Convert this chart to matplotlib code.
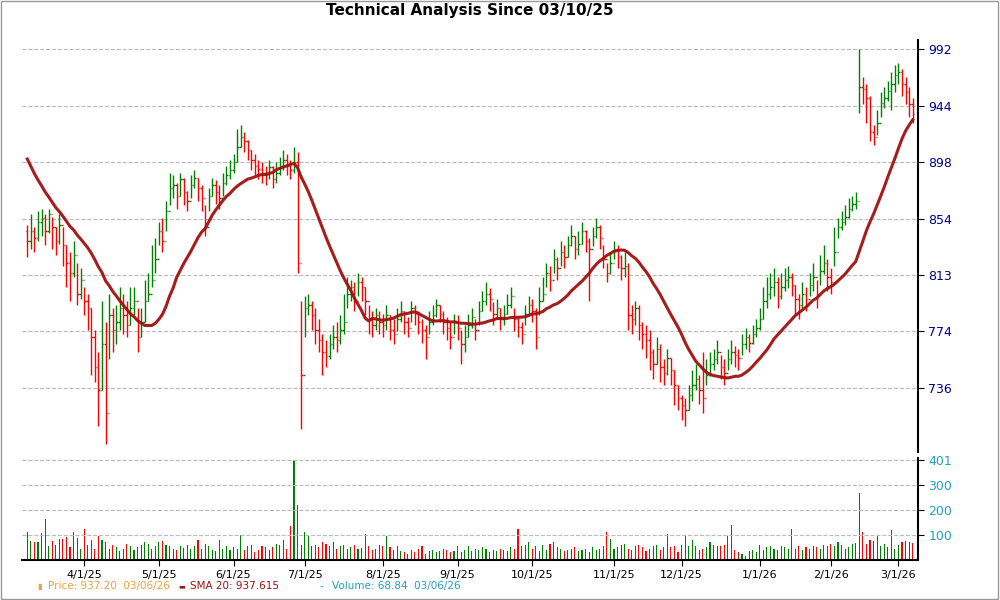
import numpy as np
import pandas as pd
import matplotlib
matplotlib.use("Agg")
import matplotlib.pyplot as plt
from matplotlib.ticker import FixedLocator, NullLocator, FixedFormatter

holidays = ["2025-04-18", "2025-05-26", "2025-06-19", "2025-07-04", "2025-09-01",
            "2025-11-27", "2025-12-25", "2026-01-01", "2026-01-19", "2026-02-16"]
history_close = [960, 955, 950, 945, 940, 935, 930, 920, 910, 905, 900, 890, 880, 875, 870, 860, 855, 850, 845]

close = [
 838, 845, 840, 852, 855, 845, 858, 848, 838, 850, 835, 822, 815, 828, 800, 810,
 795, 790, 770, 750, 735, 765, 720, 785, 775, 780, 790, 785, 778, 790, 795, 770, 780, 795, 800, 810, 825,
 845, 838, 860, 878, 880, 872, 885, 875, 868, 880, 886, 878, 870, 848, 872, 880, 875, 870, 882, 888, 892,
 898, 910, 918, 915, 908, 900, 895, 893, 890, 888, 894, 885, 890, 895, 900, 895, 892, 898, 822, 745,
 790, 792, 785, 775, 768, 760, 757, 765, 770, 768, 775, 780, 800, 805, 795, 808, 805, 795, 782, 778, 785, 780,
 778, 785, 775, 772, 782, 788, 780, 776, 790, 786, 780, 775, 770, 780, 785, 792, 786, 780, 776, 770, 780,
 776, 765, 770, 778, 784, 775, 788, 795, 800, 796, 786, 790, 782, 786, 792, 798, 782, 777, 772, 786, 792,
 788, 770, 795, 800, 815, 810, 825, 818, 830, 826, 835, 842, 832, 836, 845, 838, 832, 842, 848, 840, 825, 815, 822,
 832, 826, 818, 820, 785, 782, 790, 778, 772, 768, 760, 752, 762, 750, 746, 756, 748, 738, 730,
 725, 722, 732, 738, 742, 735, 730, 745, 752, 755, 760, 750, 746, 755, 760, 758, 756, 765, 770, 766, 772, 776,
 782, 795, 800, 805, 808, 798, 805, 810, 812, 806, 796, 792, 800, 796, 806, 812, 800, 816, 822, 812,
 808, 830, 848, 852, 856, 862, 866, 868, 960, 958, 950, 922, 918, 930, 946, 950, 956, 962, 970,
 972, 962, 955, 945, 937.2]
high = [
 850, 858, 848, 860, 862, 858, 862, 856, 848, 858, 848, 835, 830, 838, 822, 818,
 805, 800, 790, 775, 760, 795, 780, 800, 790, 792, 805, 800, 795, 805, 805, 790, 790, 810, 815, 835, 840,
 852, 855, 868, 890, 888, 882, 890, 886, 876, 888, 892, 886, 880, 865, 878, 886, 884, 880, 890, 895, 900,
 905, 925, 928, 922, 916, 908, 905, 900, 898, 895, 900, 895, 898, 902, 908, 905, 900, 910, 906, 795,
 798, 800, 795, 790, 782, 772, 768, 772, 778, 780, 785, 800, 812, 810, 808, 815, 812, 805, 792, 788, 790, 788,
 786, 792, 785, 782, 790, 795, 788, 784, 795, 792, 788, 782, 778, 788, 792, 796, 792, 788, 784, 780, 786,
 785, 775, 778, 786, 790, 782, 795, 802, 808, 804, 794, 796, 790, 792, 800, 805, 790, 784, 780, 792, 798,
 796, 790, 805, 812, 822, 820, 832, 826, 838, 835, 842, 850, 842, 845, 852, 846, 840, 848, 855, 850, 835, 822, 830,
 838, 835, 828, 830, 822, 792, 795, 792, 780, 778, 775, 762, 770, 765, 755, 762, 756, 748, 738,
 732, 730, 738, 748, 752, 745, 760, 755, 760, 762, 768, 758, 755, 762, 768, 764, 762, 772, 776, 772, 778, 782,
 790, 805, 812, 815, 818, 812, 815, 818, 820, 815, 806, 800, 808, 805, 815, 822, 810, 828, 835, 825,
 818, 848, 855, 860, 865, 870, 872, 875, 992, 968, 962, 952, 928, 940, 955, 960, 965, 972, 978,
 980, 975, 968, 960, 950]
low = [
 826, 832, 830, 838, 842, 835, 844, 832, 828, 836, 820, 805, 795, 812, 792, 796,
 785, 775, 745, 740, 712, 735, 701, 755, 760, 765, 775, 772, 770, 778, 785, 760, 770, 780, 795, 805, 815,
 835, 830, 845, 865, 870, 862, 872, 865, 860, 870, 878, 868, 860, 842, 860, 872, 866, 862, 872, 880, 885,
 890, 898, 910, 906, 900, 892, 888, 885, 882, 880, 885, 878, 882, 888, 892, 888, 885, 890, 815, 710,
 770, 785, 775, 765, 760, 745, 750, 755, 762, 760, 765, 772, 790, 795, 788, 798, 795, 785, 772, 770, 775, 772,
 770, 775, 768, 765, 774, 780, 772, 770, 780, 778, 772, 766, 755, 772, 778, 784, 780, 772, 768, 762, 772,
 768, 752, 760, 770, 776, 768, 778, 788, 792, 788, 778, 782, 775, 778, 786, 790, 774, 770, 765, 778, 785,
 780, 762, 785, 795, 805, 802, 815, 810, 820, 818, 826, 834, 825, 828, 836, 830, 795, 834, 840, 832, 818, 808, 814,
 825, 818, 810, 812, 775, 772, 778, 768, 762, 756, 748, 742, 752, 740, 738, 745, 738, 725, 722,
 716, 712, 722, 728, 735, 726, 720, 738, 744, 748, 752, 742, 738, 748, 752, 750, 748, 758, 762, 760, 765, 770,
 775, 782, 790, 796, 798, 790, 796, 802, 804, 798, 786, 782, 790, 788, 798, 802, 790, 806, 814, 802,
 800, 820, 840, 846, 850, 855, 860, 862, 938, 945, 930, 915, 912, 920, 935, 942, 948, 940, 955,
 962, 952, 945, 935, 930]
volume = [
 112, 75, 70, 72, 108, 165, 55, 75, 60, 82, 85, 90, 50, 112, 88, 45,
 125, 60, 80, 45, 95, 78, 70, 45, 60, 50, 35, 45, 62, 55, 40, 50, 58, 70, 62, 45, 55,
 72, 75, 60, 55, 42, 40, 55, 48, 60, 45, 55, 80, 45, 62, 55, 40, 35, 80, 45, 55, 40,
 50, 45, 100, 40, 55, 60, 30, 40, 55, 50, 40, 50, 65, 60, 80, 45, 135, 401, 220, 60,
 110, 95, 55, 60, 50, 70, 65, 55, 72, 45, 55, 60, 45, 50, 60, 45, 48, 105, 55, 40, 45, 60,
 55, 95, 50, 40, 55, 35, 30, 25, 40, 30, 45, 55, 25, 35, 40, 30, 35, 45, 40, 30, 35,
 55, 30, 40, 55, 35, 45, 40, 50, 45, 30, 40, 35, 45, 40, 35, 50, 45, 125, 55, 60, 70,
 45, 55, 35, 60, 40, 65, 70, 50, 45, 35, 40, 45, 50, 35, 40, 45, 30, 50, 40, 45, 55, 110, 85,
 45, 50, 60, 65, 45, 40, 55, 60, 50, 35, 45, 55, 60, 40, 50, 105, 50, 55, 30,
 60, 100, 55, 80, 55, 40, 45, 50, 70, 60, 55, 55, 60, 95, 140, 40, 30, 25, 15, 35, 40, 30,
 60, 40, 50, 55, 45, 40, 55, 50, 45, 125, 45, 55, 40, 50, 45, 55, 50, 45, 60, 55,
 65, 55, 70, 60, 45, 50, 62, 68, 270, 110, 65, 80, 75, 100, 55, 65, 50, 118, 45,
 60, 70, 75, 70, 68.84]
price_ticks = [736, 774, 813, 854, 898, 944, 992]
volume_ticks = [100, 200, 300, 401]

dates = pd.bdate_range("2025-03-10", "2026-03-06")
dates = dates[~dates.isin(pd.to_datetime(holidays))]
n = len(close)
x = np.arange(n)
allc = np.array(history_close + close, dtype=float)
sma = pd.Series(allc).rolling(20).mean().values[len(history_close):]
prev = np.array([history_close[-1]] + close[:-1], dtype=float)
opn = prev
cols = ["#008000" if c >= p else "#ff0000" for c, p in zip(close, prev)]

fig = plt.figure(figsize=(10, 6), dpi=100)
fig.patches.append(plt.Rectangle((0.001, 0.002), 0.997, 0.996, transform=fig.transFigure,
                                 fill=False, edgecolor="#999999", lw=1))
ax = fig.add_axes([0.022, 0.247, 0.896, 0.686])
axv = fig.add_axes([0.022, 0.067, 0.896, 0.170], sharex=ax)

ax.vlines(x, low, high, colors=cols, lw=1.0)
ax.hlines(opn, x - 0.4, x, colors=cols, lw=1.0)
ax.hlines(close, x, x + 0.4, colors=cols, lw=1.0)
ax.plot(x, sma, color="#a01010", lw=2.2, alpha=0.95)
ax.set_yscale("log")
ax.set_ylim(696, 1000)
ax.yaxis.set_major_locator(FixedLocator(price_ticks))
ax.yaxis.set_major_formatter(FixedFormatter([str(t) for t in price_ticks]))
ax.yaxis.set_minor_locator(NullLocator())
ax.yaxis.tick_right()
ax.tick_params(axis="y", labelsize=9, length=4, color="black", labelcolor="#00008b")
ax.grid(axis="y", color="#bbbbbb", ls="--", lw=0.8)
ax.tick_params(axis="x", bottom=False, labelbottom=False)
for s in ["top", "left", "bottom"]:
    ax.spines[s].set_visible(False)
ax.spines["right"].set_linewidth(1.5)
fig.text(0.47, 0.982, "Technical Analysis Since 03/10/25", fontsize=11, fontweight="bold",
         ha="center", va="center")

axv.bar(x, volume, width=0.3, color=cols)
axv.set_ylim(0, 410)
axv.yaxis.tick_right()
axv.set_yticks(volume_ticks)
axv.tick_params(axis="y", labelcolor="#20a0c0", labelsize=9, length=4)
axv.grid(axis="y", color="#bbbbbb", ls="--", lw=0.8)
for s in ["top", "left"]:
    axv.spines[s].set_visible(False)
axv.spines["right"].set_linewidth(1.5)
axv.spines["bottom"].set_linewidth(1.5)
months = pd.Series(dates.to_period("M"))
first = [i for i in range(1, n) if months[i] != months[i - 1]]
axv.set_xticks(first)
axv.set_xticklabels([f"{dates[i].month}/1/{dates[i].year % 100}" for i in first], fontsize=8)
axv.tick_params(axis="x", length=4)
axv.set_xlim(-1.5, n + 0.5)

fig.text(0.037, 0.023, "▮", color="#f0a040", fontsize=6, va="center")
fig.text(0.048, 0.023, "Price: 937.20  03/06/26", color="#f0a040", fontsize=7.5, va="center")
fig.text(0.178, 0.023, "▬", color="#a01010", fontsize=5, va="center")
fig.text(0.190, 0.023, "SMA 20: 937.615", color="#a01010", fontsize=7.5, va="center")
fig.text(0.320, 0.023, "-", color="#20a0c0", fontsize=7.5, va="center")
fig.text(0.332, 0.023, "Volume: 68.84  03/06/26", color="#20a0c0", fontsize=7.5, va="center")

fig.savefig("out.png", dpi=100)
